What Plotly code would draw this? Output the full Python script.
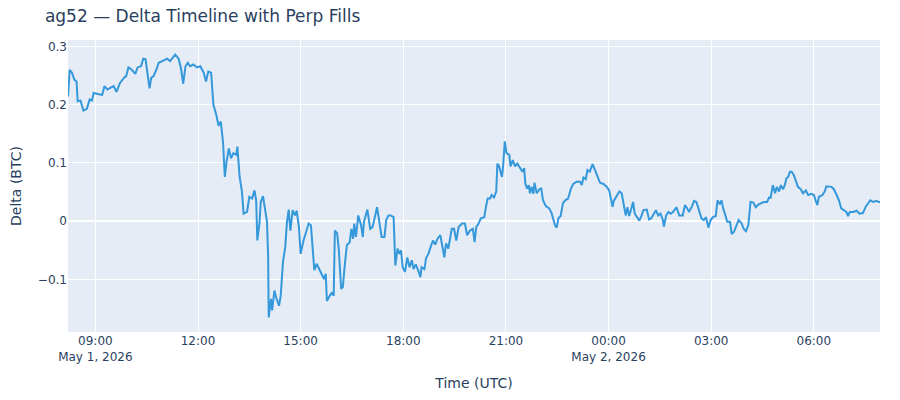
import pandas as pd
import plotly.graph_objects as go

# delta timeline; minutes after 2026-05-01 08:00 UTC
base_time = "2026-05-01 08:00"
offset_min = [
    12, 15, 19, 23, 27, 29, 34, 39, 45, 50, 54, 57, 66, 72, 76, 81, 86, 92, 97, 103,
    110, 114, 118, 124, 130, 134, 140, 144, 148, 152, 155, 158, 162, 167, 171, 180, 186, 191, 196, 200,
    206, 210, 214, 218, 222, 226, 232, 238, 244, 250, 254, 258, 263, 267, 272, 276, 280, 284, 287, 290,
    294, 298, 302, 307, 309, 313, 317, 320, 326, 330, 335, 339, 342, 344, 348, 350, 354, 358, 361, 363,
    364, 368, 370, 374, 377, 382, 385, 389, 393, 396, 399, 402, 406, 410, 413, 417, 420, 425, 430, 434,
    438, 441, 444, 448, 453, 457, 461, 464, 466, 471, 475, 478, 480, 484, 487, 491, 494, 497, 501, 506,
    509, 512, 514, 517, 521, 526, 529, 531, 537, 542, 546, 549, 554, 558, 562, 567, 570, 574, 578, 583,
    586, 590, 593, 596, 599, 603, 607, 611, 615, 618, 622, 627, 630, 632, 637, 640, 644, 648, 652, 656,
    660, 665, 668, 672, 675, 679, 685, 689, 693, 697, 703, 708, 712, 717, 722, 725, 728, 732, 736, 742,
    745, 748, 752, 755, 759, 763, 765, 768, 773, 775, 778, 781, 786, 788, 792, 796, 800, 805, 809, 812,
    814, 817, 820, 822, 825, 828, 830, 834, 839, 842, 845, 850, 856, 860, 866, 869, 872, 876, 880, 884,
    889, 894, 898, 904, 910, 913, 916, 920, 923, 927, 932, 936, 940, 945, 951, 957, 961, 964, 967, 969,
    974, 979, 983, 987, 990, 993, 996, 1000, 1003, 1006, 1010, 1014, 1018, 1021, 1027, 1031, 1035, 1040, 1043, 1047,
    1051, 1055, 1057, 1061, 1065, 1069, 1073, 1079, 1084, 1090, 1094, 1098, 1101, 1106, 1110, 1114, 1119, 1123, 1127, 1131,
    1135, 1139, 1143, 1148, 1151, 1155, 1158, 1161, 1165, 1168, 1173, 1176, 1180, 1184, 1188, 1193, 1197, 1201, 1205, 1209,
    1214, 1218, 1222, 1228, 1232, 1238, 1242, 1244, 1248, 1252, 1255, 1259, 1262, 1266, 1269, 1272, 1275, 1278, 1281, 1285,
    1288, 1292, 1297, 1301, 1306, 1310, 1316, 1320, 1323, 1326, 1329, 1335, 1339, 1342, 1351, 1355, 1360, 1364, 1368, 1372,
    1377, 1380, 1383, 1389, 1395, 1400, 1406, 1411, 1415, 1419, 1424, 1430, 1434, 1436,
]
delta_btc = [
    0.214, 0.260, 0.255, 0.243, 0.240, 0.206, 0.207, 0.190, 0.193, 0.209, 0.207, 0.220, 0.218, 0.217, 0.232, 0.226, 0.229, 0.232, 0.222, 0.237,
    0.246, 0.249, 0.264, 0.260, 0.253, 0.264, 0.266, 0.279, 0.278, 0.252, 0.228, 0.246, 0.249, 0.260, 0.272, 0.276, 0.279, 0.275, 0.281, 0.286,
    0.279, 0.263, 0.236, 0.266, 0.272, 0.266, 0.269, 0.264, 0.266, 0.255, 0.240, 0.257, 0.255, 0.200, 0.183, 0.164, 0.171, 0.134, 0.076, 0.102,
    0.125, 0.108, 0.117, 0.114, 0.128, 0.076, 0.051, 0.013, 0.016, 0.042, 0.039, 0.053, 0.036, -0.033, -0.001, 0.033, 0.043, 0.013, -0.001, -0.062,
    -0.165, -0.133, -0.153, -0.119, -0.131, -0.145, -0.128, -0.070, -0.044, -0.001, 0.020, -0.016, 0.019, 0.010, 0.018, -0.010, -0.056, -0.033, -0.016, -0.004,
    -0.007, -0.056, -0.084, -0.073, -0.084, -0.090, -0.099, -0.090, -0.137, -0.128, -0.122, -0.128, -0.016, -0.021, -0.050, -0.116, -0.113, -0.079, -0.041, -0.036,
    -0.013, -0.030, -0.004, -0.027, 0.010, -0.007, -0.027, -0.001, 0.020, -0.013, -0.010, 0.002, 0.024, -0.001, -0.027, -0.027, 0.002, 0.010, 0.010, 0.007,
    -0.076, -0.047, -0.056, -0.050, -0.079, -0.087, -0.062, -0.079, -0.067, -0.082, -0.074, -0.087, -0.096, -0.079, -0.082, -0.063, -0.056, -0.044, -0.033, -0.040,
    -0.030, -0.024, -0.044, -0.062, -0.038, -0.047, -0.013, -0.013, -0.033, -0.010, -0.004, -0.004, -0.024, -0.016, -0.013, -0.036, -0.010, -0.004, 0.005, 0.007,
    0.025, 0.039, 0.039, 0.045, 0.041, 0.051, 0.099, 0.094, 0.076, 0.094, 0.137, 0.117, 0.114, 0.094, 0.105, 0.094, 0.099, 0.091, 0.085, 0.091,
    0.065, 0.056, 0.062, 0.048, 0.059, 0.047, 0.066, 0.048, 0.055, 0.056, 0.036, 0.026, 0.022, 0.014, -0.007, -0.011, 0.005, 0.009, 0.031, 0.036,
    0.039, 0.056, 0.064, 0.068, 0.068, 0.062, 0.075, 0.072, 0.088, 0.085, 0.098, 0.088, 0.079, 0.066, 0.064, 0.059, 0.053, 0.036, 0.025, 0.035,
    0.042, 0.051, 0.048, 0.028, 0.010, 0.024, 0.009, 0.022, 0.033, 0.013, 0.006, 0.001, 0.010, 0.019, 0.020, 0.003, 0.005, 0.013, 0.019, 0.010,
    0.013, 0.003, -0.009, 0.010, 0.016, 0.013, 0.016, 0.024, 0.010, 0.010, 0.028, 0.022, 0.016, 0.025, 0.035, 0.033, 0.019, 0.005, 0.002, 0.007,
    -0.011, 0.002, 0.007, 0.009, 0.036, 0.029, 0.036, 0.022, 0.010, -0.001, -0.001, -0.022, -0.018, -0.007, 0.002, -0.003, -0.013, -0.017, -0.007, 0.033,
    0.032, 0.024, 0.028, 0.031, 0.033, 0.033, 0.042, 0.039, 0.062, 0.048, 0.059, 0.051, 0.062, 0.055, 0.062, 0.074, 0.076, 0.085, 0.085, 0.079,
    0.071, 0.059, 0.055, 0.048, 0.053, 0.045, 0.047, 0.045, 0.036, 0.028, 0.042, 0.045, 0.051, 0.060, 0.059, 0.055, 0.045, 0.036, 0.022, 0.019,
    0.016, 0.009, 0.016, 0.016, 0.018, 0.013, 0.014, 0.025, 0.031, 0.036, 0.033, 0.035, 0.033, 0.033,
]

times = pd.Timestamp(base_time) + pd.to_timedelta(offset_min, unit="min")

fig = go.Figure()
fig.add_trace(go.Scatter(
    x=times, y=delta_btc, mode="lines",
    line=dict(color="#3498db", width=2), name="delta",
))
fig.update_layout(
    title=dict(text="ag52 — Delta Timeline with Perp Fills",
               y=0.98, yanchor="middle", x=0.041),
    font=dict(family="DejaVu Sans"),
    xaxis_title="Time (UTC)",
    yaxis_title="Delta (BTC)",
    width=900, height=400,
    # page adds an 8px body margin, so shift the plot box up/left by that
    margin=dict(l=60, r=28, t=32, b=76),
    showlegend=False,
)
fig.update_yaxes(automargin=False)
fig.update_xaxes(automargin=False)
fig.write_html("out.html")
